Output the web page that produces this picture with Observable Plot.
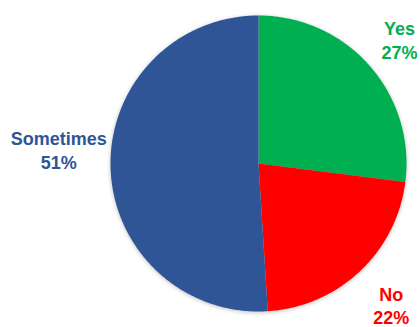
<!DOCTYPE html>
<html><head><meta charset="utf-8">
<script src="https://cdn.jsdelivr.net/npm/d3@7"></script>
<script src="https://cdn.jsdelivr.net/npm/@observablehq/plot@0.6"></script>
<style>
body{margin:0;background:#fff;}
#chart svg g[aria-label="line"]{filter:drop-shadow(0px 1px 2px rgba(0,0,0,0.25));}
</style></head>
<body><div id="chart"></div>
<script>
const categories = ["Yes", "No", "Sometimes"];
const values = [27, 22, 51];
const colors = ["#00B050", "#FF0000", "#2F5597"];

const arcs = d3.pie().sort(null).value(d => d)(values);
const points = [];
arcs.forEach((a, i) => {
  points.push({cat: categories[i], x: 0, y: 0});
  const n = Math.max(2, Math.ceil((a.endAngle - a.startAngle) / 0.01));
  for (let k = 0; k <= n; k++) {
    const t = a.startAngle + (a.endAngle - a.startAngle) * k / n;
    points.push({cat: categories[i], x: Math.sin(t), y: Math.cos(t)});
  }
  points.push({cat: categories[i], x: 0, y: 0});
});

const labelRadius = [1.27, 1.31, 1.35];
const labelShift = [0, 0, 0.137];
const labels = arcs.map((a, i) => {
  const m = (a.startAngle + a.endAngle) / 2;
  return {cat: categories[i], text: `${categories[i]}\n${values[i]}%`,
          x: labelRadius[i] * Math.sin(m), y: labelRadius[i] * Math.cos(m) + labelShift[i]};
});

const chart = Plot.plot({
  width: 420, height: 327,
  marginLeft: 110, marginRight: 14, marginTop: 15, marginBottom: 16,
  x: {domain: [-1, 1], axis: null},
  y: {domain: [-1, 1], axis: null},
  color: {domain: categories, range: colors},
  marks: [
    Plot.line(points, {x: "x", y: "y", z: "cat", fill: "cat", stroke: "none"}),
    Plot.text(labels, {x: "x", y: "y", text: "text", fill: "cat", fontSize: 18, fontWeight: "bold",
      fontFamily: "Liberation Sans, Arial, sans-serif", lineHeight: 1.33})
  ]
});
document.getElementById("chart").appendChild(chart);
</script>
</body></html>
